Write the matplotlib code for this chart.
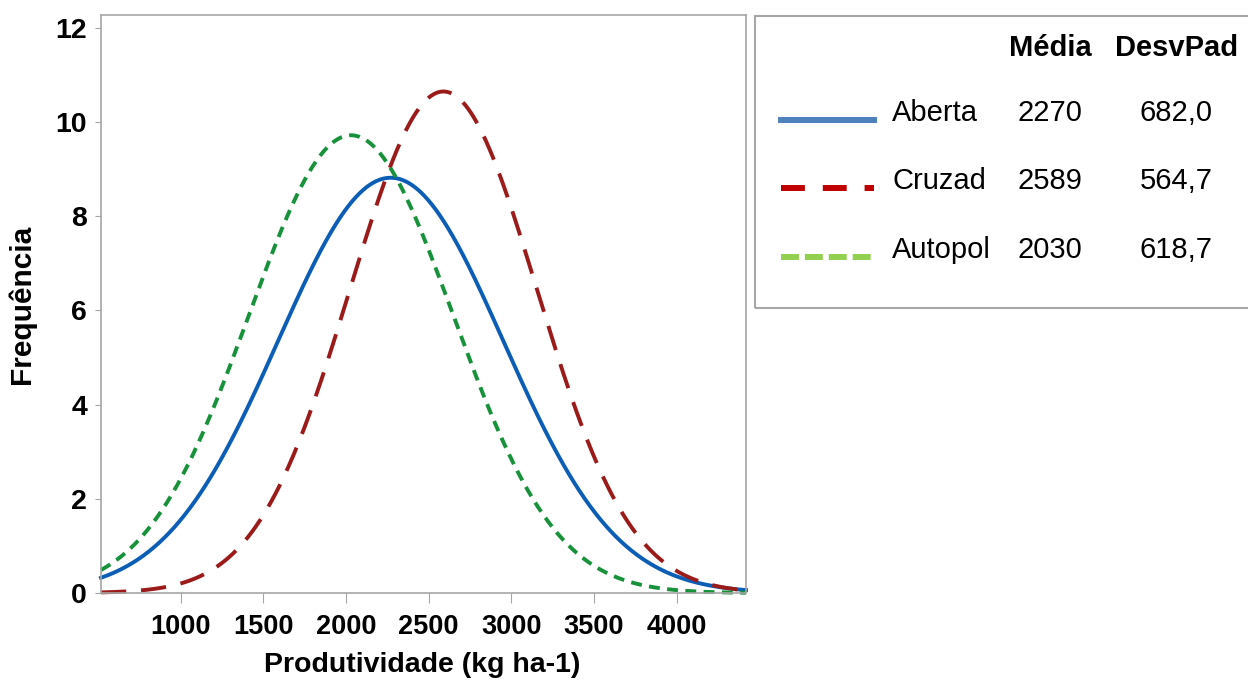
import numpy as np
import matplotlib.pyplot as plt
from matplotlib.patches import Rectangle
from matplotlib.lines import Line2D

plt.rcParams['font.family'] = ['Liberation Sans', 'DejaVu Sans']

# fitted normal curves (Minitab-style histogram fit)
groups = ['Aberta', 'Cruzad', 'Autopol']
means = [2270, 2589, 2030]
stdevs = [682.0, 564.7, 618.7]
mean_labels = ['2270', '2589', '2030']
sd_labels = ['682,0', '564,7', '618,7']
scale = 15070  # N * bin width, read from peak heights

xticks = [1000, 1500, 2000, 2500, 3000, 3500, 4000]
yticks = [0, 2, 4, 6, 8, 10, 12]
xmin, xmax = 517, 4420

line_colors = ['#0b5db5', '#9b1a1a', '#17913a']
legend_colors = ['#4f81bd', '#c00000', '#92d050']
dash_styles = ['-', (0, (6.5, 3.8)), (0, (2.8, 1.9))]
legend_dashes = ['-', (0, (4.0, 3.0)), (0, (3.0, 1.0))]

fig = plt.figure(figsize=(12.48, 6.82), dpi=100)
W, H = 1248, 682
ax = fig.add_axes([101 / W, (H - 593) / H, (746 - 101) / W, (593 - 15) / H])

grid = np.linspace(xmin, xmax, 500)
for m, s, c, ls in zip(means, stdevs, line_colors, dash_styles):
    y = scale / (s * np.sqrt(2 * np.pi)) * np.exp(-0.5 * ((grid - m) / s) ** 2)
    ax.plot(grid, y, color=c, lw=2.8, linestyle=ls, clip_on=False)

ax.set_xlim(xmin, xmax)
ax.set_ylim(0, 12.27)
ax.set_xticks(xticks)
ax.set_yticks(yticks)
ax.set_xticklabels([str(t) for t in xticks], fontsize=19.5, fontweight='bold')
ax.set_yticklabels([str(t) for t in yticks], fontsize=20.5, fontweight='bold')
for sp in ax.spines.values():
    sp.set_color('#a6a6a6')
    sp.set_linewidth(1.2)
ax.tick_params(axis='x', direction='out', length=7, color='#a6a6a6', pad=8)
ax.tick_params(axis='y', direction='out', length=4, color='#a6a6a6', pad=6)
fig.text(422 / W, 1 - 672 / H, 'Produtividade (kg ha-1)', fontsize=20.5,
         fontweight='heavy', ha='center', va='baseline')
ax.set_ylabel('Frequência', fontsize=21.5, fontweight='heavy', labelpad=14)

# legend table box on the right
fig.patches.append(Rectangle((755 / W, (H - 308) / H), 600 / W, 292 / H,
                             transform=fig.transFigure, fill=False,
                             edgecolor='#a6a6a6', lw=1.5))
fig.text(1050 / W, 1 - 48 / H, 'Média', fontsize=21, fontweight='bold',
         ha='center', va='center')
fig.text(1177 / W, 1 - 48 / H, 'DesvPad', fontsize=21, fontweight='bold',
         ha='center', va='center')
rows_y = [113, 181, 250]
for i, g in enumerate(groups):
    yy = 1 - rows_y[i] / H
    ly = 1 - (rows_y[i] + 7) / H
    fig.add_artist(Line2D([781 / W, 874 / W], [ly, ly], transform=fig.transFigure,
                          color=legend_colors[i], lw=4.3, linestyle=legend_dashes[i]))
    fig.text(892 / W, yy, g, fontsize=21, ha='left', va='center')
    fig.text(1050 / W, yy, mean_labels[i], fontsize=21, ha='center', va='center')
    fig.text(1176 / W, yy, sd_labels[i], fontsize=21, ha='center', va='center')

fig.savefig('out.png', dpi=100)
